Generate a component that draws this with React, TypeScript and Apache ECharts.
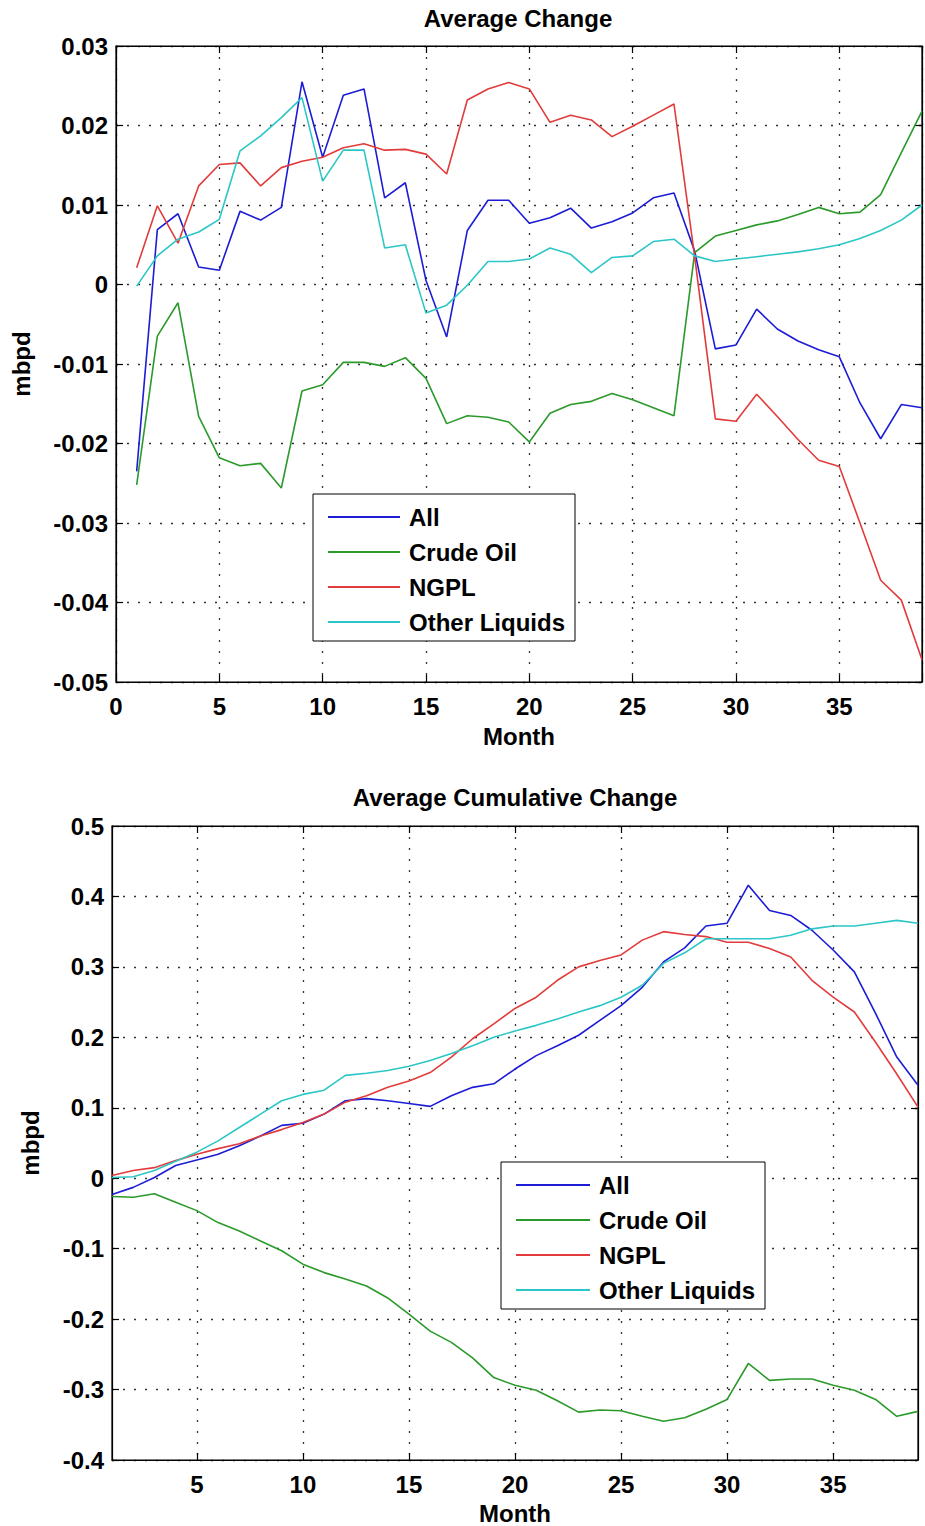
import React, { useEffect, useRef } from 'react';
import * as echarts from 'echarts';

// ---------- data ----------
const months = [1, 2, 3, 4, 5, 6, 7, 8, 9, 10, 11, 12, 13, 14, 15, 16, 17, 18, 19, 20, 21, 22, 23, 24, 25, 26, 27, 28, 29, 30, 31, 32, 33, 34, 35, 36, 37, 38, 39];

const seriesNames = ['All', 'Crude Oil', 'NGPL', 'Other Liquids'];

// Average Change (mbpd)
const changeAll = [-0.0235, 0.0069, 0.0089, 0.0022, 0.0018, 0.0092, 0.0081, 0.0097, 0.0255, 0.0160, 0.0238, 0.0246, 0.0109, 0.0128, 0.0005, -0.0066, 0.0068, 0.0106, 0.0106, 0.0077, 0.0084, 0.0096, 0.0071, 0.0079, 0.0090, 0.0109, 0.0115, 0.0042, -0.0081, -0.0076, -0.0031, -0.0056, -0.0071, -0.0082, -0.0091, -0.0149, -0.0194, -0.0151, -0.0155];
const changeCrude = [-0.0252, -0.0065, -0.0023, -0.0166, -0.0218, -0.0228, -0.0225, -0.0256, -0.0134, -0.0126, -0.0098, -0.0098, -0.0103, -0.0092, -0.0118, -0.0175, -0.0165, -0.0167, -0.0173, -0.0198, -0.0162, -0.0151, -0.0147, -0.0137, -0.0145, -0.0155, -0.0165, 0.0040, 0.0061, 0.0068, 0.0075, 0.0080, 0.0088, 0.0097, 0.0089, 0.0091, 0.0113, 0.0166, 0.0218];
const changeNgpl = [0.0021, 0.0099, 0.0052, 0.0124, 0.0151, 0.0153, 0.0124, 0.0147, 0.0155, 0.0160, 0.0172, 0.0177, 0.0169, 0.0170, 0.0164, 0.0139, 0.0232, 0.0246, 0.0254, 0.0246, 0.0204, 0.0213, 0.0207, 0.0186, 0.0199, 0.0213, 0.0227, 0.0035, -0.0169, -0.0172, -0.0138, -0.0166, -0.0195, -0.0221, -0.0229, -0.0300, -0.0372, -0.0397, -0.0472];
const changeOther = [-0.0002, 0.0036, 0.0057, 0.0066, 0.0082, 0.0168, 0.0187, 0.0210, 0.0235, 0.0130, 0.0169, 0.0169, 0.0046, 0.0050, -0.0036, -0.0026, -0.0001, 0.0029, 0.0029, 0.0032, 0.0046, 0.0038, 0.0015, 0.0034, 0.0036, 0.0054, 0.0057, 0.0036, 0.0029, 0.0032, 0.0035, 0.0038, 0.0041, 0.0045, 0.0050, 0.0058, 0.0068, 0.0081, 0.0100];

// Average Cumulative Change (mbpd)
const cumAll = [-0.023, -0.013, 0.001, 0.018, 0.026, 0.034, 0.046, 0.060, 0.075, 0.078, 0.091, 0.110, 0.113, 0.110, 0.106, 0.102, 0.117, 0.129, 0.134, 0.155, 0.174, 0.188, 0.203, 0.224, 0.245, 0.271, 0.307, 0.327, 0.358, 0.362, 0.416, 0.380, 0.373, 0.352, 0.324, 0.293, 0.234, 0.172, 0.132];
const cumCrude = [-0.026, -0.027, -0.022, -0.034, -0.046, -0.063, -0.075, -0.089, -0.103, -0.122, -0.134, -0.143, -0.153, -0.170, -0.193, -0.217, -0.233, -0.255, -0.283, -0.294, -0.301, -0.316, -0.332, -0.329, -0.330, -0.338, -0.345, -0.340, -0.328, -0.314, -0.263, -0.287, -0.285, -0.285, -0.294, -0.301, -0.314, -0.338, -0.331];
const cumNgpl = [0.004, 0.011, 0.015, 0.025, 0.034, 0.042, 0.049, 0.060, 0.069, 0.079, 0.091, 0.108, 0.117, 0.129, 0.138, 0.150, 0.172, 0.198, 0.219, 0.241, 0.257, 0.281, 0.300, 0.309, 0.317, 0.338, 0.350, 0.346, 0.343, 0.335, 0.335, 0.326, 0.314, 0.281, 0.257, 0.236, 0.193, 0.148, 0.101];
const cumOther = [0.001, 0.002, 0.011, 0.024, 0.037, 0.053, 0.072, 0.091, 0.110, 0.119, 0.125, 0.146, 0.149, 0.153, 0.159, 0.167, 0.177, 0.188, 0.200, 0.209, 0.217, 0.226, 0.236, 0.245, 0.257, 0.274, 0.305, 0.320, 0.340, 0.340, 0.340, 0.340, 0.345, 0.354, 0.358, 0.358, 0.362, 0.366, 0.362];

const bottomTicks = [5, 10, 15, 20, 25, 30, 35];

// ---------- styling ----------
const FONT = "'Liberation Sans', Arial, Helvetica, sans-serif";
const COLORS = ['#1c1cd6', '#2b9a2b', '#e23b3b', '#2cc6c6'];

const textBase = { color: '#000', fontFamily: FONT, fontWeight: 'bold' as const, fontSize: 24 };
const gridLine = { show: true, lineStyle: { color: '#333', type: [2, 9], width: 1.3 } };
const axisLine = { show: true, onZero: false, lineStyle: { color: '#000', width: 1.2 } };
const tickIn = { show: true, inside: true, length: 7, lineStyle: { color: '#000', width: 1.2 } };

function pairs(vals: number[]) {
  return months.map((m, i) => [m, vals[i]]);
}

function fmt(v: number, d: number) {
  if (Math.abs(v) < 1e-9) return '0';
  return v.toFixed(d);
}

function buildOption(): any {
  const topSets = [changeAll, changeCrude, changeNgpl, changeOther];
  const botSets = [cumAll, cumCrude, cumNgpl, cumOther];
  const series: any[] = [];
  topSets.forEach((vals, i) => {
    series.push({
      type: 'line', name: seriesNames[i], xAxisIndex: 0, yAxisIndex: 0,
      data: pairs(vals), symbol: 'none', color: COLORS[i],
      lineStyle: { width: 1.6, color: COLORS[i] },
    });
  });
  botSets.forEach((vals, i) => {
    series.push({
      type: 'line', name: seriesNames[i], xAxisIndex: 2, yAxisIndex: 2,
      data: pairs(vals), symbol: 'none', color: COLORS[i],
      lineStyle: { width: 1.6, color: COLORS[i] },
    });
  });

  const legendBase = {
    orient: 'vertical', icon: 'rect', itemHeight: 2, itemGap: 11,
    padding: [11, 10, 7, 15], borderColor: '#000', borderWidth: 1,
    backgroundColor: '#fff', data: seriesNames, selectedMode: false,
    textStyle: { ...textBase, lineHeight: 24, padding: [0, 0, 0, 4] },
  };

  return {
    animation: false,
    backgroundColor: '#fff',
    title: [
      { text: 'Average Change', left: 518, top: 6, padding: 0, textAlign: 'center', textStyle: textBase },
      { text: 'Average Cumulative Change', left: 515, top: 785, padding: 0, textAlign: 'center', textStyle: textBase },
    ],
    grid: [
      { left: 116, top: 46, width: 806, height: 636, show: true, borderColor: '#000', borderWidth: 1.2, backgroundColor: '#fff' },
      { left: 112, top: 826, width: 806, height: 635, show: true, borderColor: '#000', borderWidth: 1.2, backgroundColor: '#fff' },
    ],
    xAxis: [
      {
        gridIndex: 0, type: 'value', position: 'bottom', min: 0, max: 39, interval: 5,
        name: 'Month', nameLocation: 'middle', nameGap: 42, nameTextStyle: textBase,
        axisLine, axisTick: tickIn, splitLine: gridLine,
        axisLabel: { ...textBase, margin: 12, formatter: (v: number) => (v % 5 === 0 ? String(v) : '') },
      },
      {
        gridIndex: 0, type: 'value', position: 'top', min: 0, max: 39, interval: 5,
        axisLine, axisTick: tickIn, splitLine: { show: false }, axisLabel: { show: false },
      },
      {
        gridIndex: 1, type: 'value', position: 'bottom', min: 1, max: 39,
        name: 'Month', nameLocation: 'middle', nameGap: 41, nameTextStyle: textBase,
        axisLine,
        axisTick: { ...tickIn, customValues: bottomTicks },
        splitLine: gridLine,
        axisLabel: { ...textBase, margin: 12, customValues: bottomTicks },
      },
      {
        gridIndex: 1, type: 'value', position: 'top', min: 1, max: 39,
        axisLine, axisTick: { ...tickIn, customValues: bottomTicks },
        splitLine: { show: false }, axisLabel: { show: false },
      },
    ],
    yAxis: [
      {
        gridIndex: 0, type: 'value', position: 'left', min: -0.05, max: 0.03, interval: 0.01,
        name: 'mbpd', nameLocation: 'middle', nameGap: 83, nameRotate: 90, nameTextStyle: textBase,
        axisLine, axisTick: tickIn, splitLine: gridLine,
        axisLabel: { ...textBase, margin: 8, formatter: (v: number) => fmt(v, 2) },
      },
      {
        gridIndex: 0, type: 'value', position: 'right', min: -0.05, max: 0.03, interval: 0.01,
        axisLine, axisTick: tickIn, splitLine: { show: false }, axisLabel: { show: false },
      },
      {
        gridIndex: 1, type: 'value', position: 'left', min: -0.4, max: 0.5, interval: 0.1,
        name: 'mbpd', nameLocation: 'middle', nameGap: 70, nameRotate: 90, nameTextStyle: textBase,
        axisLine, axisTick: tickIn, splitLine: gridLine,
        axisLabel: { ...textBase, margin: 8, formatter: (v: number) => fmt(v, 1) },
      },
      {
        gridIndex: 1, type: 'value', position: 'right', min: -0.4, max: 0.5, interval: 0.1,
        axisLine, axisTick: tickIn, splitLine: { show: false }, axisLabel: { show: false },
      },
    ],
    legend: [
      { ...legendBase, left: 313, top: 494, itemWidth: 72 },
      { ...legendBase, left: 501, top: 1162, itemWidth: 74 },
    ],
    series,
  };
}

export default function App() {
  const ref = useRef<HTMLDivElement>(null);
  useEffect(() => {
    if (!ref.current) return;
    const chart = echarts.init(ref.current, null, { renderer: 'svg' });
    chart.setOption(buildOption());
    return () => chart.dispose();
  }, []);
  return (
    <div
      ref={ref}
      style={{ position: 'absolute', left: 0, top: 0, width: 925, height: 1526, background: '#fff' }}
    />
  );
}
